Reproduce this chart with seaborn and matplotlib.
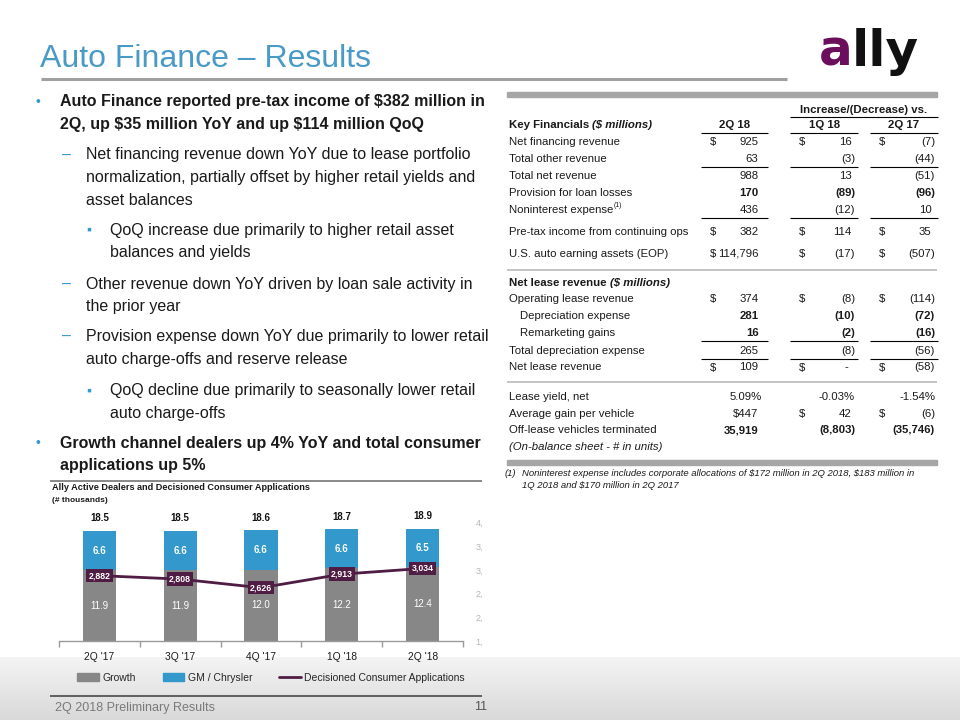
import numpy as np
import pandas as pd
import matplotlib
matplotlib.use("Agg")
import matplotlib.pyplot as plt
from matplotlib.patches import Patch, Rectangle
from matplotlib.lines import Line2D
from matplotlib.colors import LinearSegmentedColormap
import seaborn as sns

# chart data
quarters = ["2Q '17", "3Q '17", "4Q '17", "1Q '18", "2Q '18"]
growth = [11.9, 11.9, 12.0, 12.2, 12.4]
gm_chrysler = [6.6, 6.6, 6.6, 6.6, 6.5]
total_labels = ["18.5", "18.5", "18.6", "18.7", "18.9"]
applications = [2882, 2808, 2626, 2913, 3034]
app_ticks = [1500, 2000, 2500, 3000, 3500, 4000]
app_tick_labels = ["1,", "2,", "2,", "3,", "3,", "4,"]

# table data
kf_labels = ["Net financing revenue", "Total other revenue", "Total net revenue",
             "Provision for loan losses", "Noninterest expense",
             "Pre-tax income from continuing ops", "U.S. auto earning assets (EOP)"]
kf_2q18 = ["925", "63", "988", "170", "436", "382", "114,796"]
kf_vs_1q18 = ["16", "(3)", "13", "(89)", "(12)", "114", "(17)"]
kf_vs_2q17 = ["(7)", "(44)", "(51)", "(96)", "10", "35", "(507)"]
kf_dollar = [True, False, False, False, False, True, True]
kf_bold = [False, False, False, True, False, False, False]

lease_labels = ["Operating lease revenue", "Depreciation expense", "Remarketing gains",
                "Total depreciation expense", "Net lease revenue"]
lease_2q18 = ["374", "281", "16", "265", "109"]
lease_vs_1q18 = ["(8)", "(10)", "(2)", "(8)", "-"]
lease_vs_2q17 = ["(114)", "(72)", "(16)", "(56)", "(58)"]
lease_dollar = [True, False, False, False, True]
lease_bold = [False, True, True, False, False]
lease_indent = [False, True, True, False, False]

other_labels = ["Lease yield, net", "Average gain per vehicle", "Off-lease vehicles terminated"]
other_2q18 = ["5.09%", "$447", "35,919"]
other_vs_1q18 = ["-0.03%", "42", "(8,803)"]
other_vs_2q17 = ["-1.54%", "(6)", "(35,746)"]
other_dollar = [False, True, False]
other_bold = [False, False, True]

bullets = [
    (0, ["Auto Finance reported pre-tax income of $382 million in",
         "2Q, up $35 million YoY and up $114 million QoQ"]),
    (1, ["Net financing revenue down YoY due to lease portfolio",
         "normalization, partially offset by higher retail yields and",
         "asset balances"]),
    (2, ["QoQ increase due primarily to higher retail asset",
         "balances and yields"]),
    (1, ["Other revenue down YoY driven by loan sale activity in",
         "the prior year"]),
    (1, ["Provision expense down YoY due primarily to lower retail",
         "auto charge-offs and reserve release"]),
    (2, ["QoQ decline due primarily to seasonally lower retail",
         "auto charge-offs"]),
    (0, ["Growth channel dealers up 4% YoY and total consumer",
         "applications up 5%"]),
]

BLUE = "#3399cc"
GRAY = "#878787"
PURPLE = "#4f1c44"
TITLE_BLUE = "#4a9ac7"

sns.set_theme(style="white")
plt.rcParams["font.family"] = ["Liberation Sans", "DejaVu Sans"]

fig = plt.figure(figsize=(9.6, 7.2), dpi=100)
ov = fig.add_axes([0, 0, 1, 1], zorder=0)
ov.set_axis_off()

# bottom gradient
cmap = LinearSegmentedColormap.from_list("bg", ["#f4f4f4", "#d9d9d9"])
ov.imshow(np.linspace(0, 1, 64).reshape(-1, 1), cmap=cmap, aspect="auto",
          extent=(0, 960, 720, 657), zorder=0)
ov.set_xlim(0, 960)
ov.set_ylim(720, 0)

renderer = fig.canvas.get_renderer()


def put(x, y, s, **kw):
    kw.setdefault("va", "center")
    kw.setdefault("color", "#1a1a1a")
    kw.setdefault("parse_math", False)
    return ov.text(x, y, s, **kw)


def right_of(t):
    return t.get_window_extent(renderer).x1


def hline(y, x0, x1, color="black", lw=0.8):
    ov.plot([x0, x1], [y, y], color=color, lw=lw, solid_capstyle="butt", zorder=2)


# title and logo
put(40, 59, "Auto Finance \u2013 Results", fontsize=23, color=TITLE_BLUE)
hline(79, 41, 787, color="#a0a0a0", lw=2.2)
a = put(819, 66, "a", fontsize=36, fontweight="bold", color="#6b0f5c",
        va="baseline", family="DejaVu Sans")
put(right_of(a) - 1, 66, "lly", fontsize=36, fontweight="bold", color="#111111",
    va="baseline", family="DejaVu Sans")

# bullets
para_y = [101.7, 155, 230, 284.3, 336.7, 391, 443.3]
marker_x = [38, 67, 89]
text_x = [60, 86, 110]
markers = ["\u2022", "\u2013", "\u25aa"]
for (level, lines), y0 in zip(bullets, para_y):
    put(marker_x[level], y0, markers[level], fontsize=10 if level != 1 else 11.5,
        color=BLUE, ha="center")
    for k, line in enumerate(lines):
        put(text_x[level], y0 + k * 22.6, line, fontsize=11.5,
            fontweight="bold" if level == 0 else "normal")

# table
tfs = 8.2
label_x = 509
dollar_x = [710, 799, 879]
right_x = [762, 855, 935]
ov.add_patch(Rectangle((507, 92), 430, 5, color="#a6a6a6", zorder=2))
ov.add_patch(Rectangle((507, 460), 430, 5, color="#a6a6a6", zorder=2))

put(864, 110, "Increase/(Decrease) vs.", fontsize=tfs, fontweight="bold", ha="center")
hline(117, 790, 938)
t = put(label_x, 125, "Key Financials ", fontsize=tfs, fontweight="bold")
put(right_of(t), 125, "($ millions)", fontsize=tfs, fontweight="bold", style="italic")
for cx, h in zip([735, 825, 904], ["2Q 18", "1Q 18", "2Q 17"]):
    put(cx, 125, h, fontsize=tfs, fontweight="bold", ha="center")
col_spans = [(701, 768), (790, 858), (870, 938)]


def underline_row(y):
    for x0, x1 in col_spans:
        hline(y, x0, x1)


def value(col, y, s, bold):
    w = "bold" if bold else "normal"
    if s == "-":
        put(right_x[col] - 9, y, s, fontsize=tfs, fontweight=w, ha="center")
    elif s.endswith(")") or s.endswith("%"):
        put(right_x[col], y, s, fontsize=tfs, fontweight=w, ha="right")
    else:
        put(right_x[col] - 3.5, y, s, fontsize=tfs, fontweight=w, ha="right")


def table_rows(ys, labels, cols, dollars, bolds, indents=None, dollar_cols=(0, 1, 2)):
    for i, y in enumerate(ys):
        lx = label_x + (11 if indents and indents[i] else 0)
        t = put(lx, y, labels[i], fontsize=tfs)
        if labels[i] == "Noninterest expense":
            put(right_of(t) + 0.5, y - 4, "(1)", fontsize=5)
        for c in range(3):
            if dollars[i] and c in dollar_cols:
                put(dollar_x[c], y, "$", fontsize=tfs)
            value(c, y, cols[c][i], bolds[i])


kf_y = [141.7, 158.7, 175.7, 192.7, 209.7, 231.7, 254]
table_rows(kf_y, kf_labels, [kf_2q18, kf_vs_1q18, kf_vs_2q17], kf_dollar, kf_bold)
underline_row(132.7)
underline_row(167.3)
underline_row(218.3)
hline(270, 507, 937, color="#c4c4c4", lw=1.4)

t = put(label_x, 282.7, "Net lease revenue ", fontsize=tfs, fontweight="bold")
put(right_of(t), 282.7, "($ millions)", fontsize=tfs, fontweight="bold", style="italic")
lease_y = [299, 316.3, 333.3, 350.5, 367.5]
table_rows(lease_y, lease_labels, [lease_2q18, lease_vs_1q18, lease_vs_2q17],
           lease_dollar, lease_bold, lease_indent)
underline_row(341.3)
underline_row(358.8)
hline(381.7, 507, 937, color="#c4c4c4", lw=1.4)

other_y = [397.3, 414, 430.3]
table_rows(other_y, other_labels, [other_2q18, other_vs_1q18, other_vs_2q17],
           other_dollar, other_bold, dollar_cols=(1, 2))
put(label_x, 446.7, "(On-balance sheet - # in units)", fontsize=tfs, style="italic")

put(505, 474, "(1)", fontsize=6.8, style="italic")
put(521.7, 474, "Noninterest expense includes corporate allocations of $172 million in 2Q 2018, $183 million in",
    fontsize=6.8, style="italic")
put(521.7, 485, "1Q 2018 and $170 million in 2Q 2017", fontsize=6.8, style="italic")

# chart heading
hline(480.5, 50, 482, color="#7f7f7f", lw=1.3)
put(52, 488, "Ally Active Dealers and Decisioned Consumer Applications", fontsize=6.6, fontweight="bold")
put(52, 500.5, "(# thousands)", fontsize=6, fontweight="bold")

# footer
hline(696, 50, 482, color="#555555", lw=1.3)
put(55, 708, "2Q 2018 Preliminary Results", fontsize=9, color="#7a7a7a")
put(487, 707, "11", fontsize=9, color="#555555", ha="right")

# chart
df = pd.DataFrame({"quarter": quarters, "growth": growth, "gm": gm_chrysler,
                   "apps": applications})
df["total"] = df["growth"] + df["gm"]

ax = fig.add_axes([59 / 960, 79 / 720, 404 / 960, 136 / 720], zorder=1)
ax.patch.set_alpha(0)
sns.barplot(data=df, x="quarter", y="total", color=BLUE, width=0.41, saturation=1,
            linewidth=0, ax=ax)
sns.barplot(data=df, x="quarter", y="growth", color=GRAY, width=0.41, saturation=1,
            linewidth=0, ax=ax)
ax.set_xlim(-0.5, len(quarters) - 0.5)
ax.set_ylim(0, 22.87)
ax.set_xlabel("")
ax.set_ylabel("")
ax.set_yticks([])
for s in ["top", "left", "right"]:
    ax.spines[s].set_visible(False)
ax.spines["bottom"].set_color("#9a9a9a")
ax.spines["bottom"].set_linewidth(1)
ax.set_xticks(np.arange(-0.5, len(quarters), 1), minor=True)
ax.tick_params(axis="x", which="major", length=0, labelsize=7.4, colors="#1a1a1a", pad=8)
ax.tick_params(axis="x", which="minor", length=4, color="#9a9a9a", width=1,
               direction="out", bottom=True)

for i in range(len(quarters)):
    ax.text(i, growth[i] / 2, f"{growth[i]:.1f}", ha="center", va="center",
            color="white", fontsize=7)
    ax.text(i, growth[i] + gm_chrysler[i] / 2, f"{gm_chrysler[i]:.1f}", ha="center",
            va="center", color="white", fontsize=7, fontweight="bold")
    ax.text(i, growth[i] + gm_chrysler[i] + 2.1, total_labels[i], ha="center",
            va="center", color="#111111", fontsize=7, fontweight="bold")

ax2 = ax.twinx()
sns.lineplot(x=np.arange(len(quarters)), y=applications, color=PURPLE, lw=2, ax=ax2)
ax2.set_ylim(1500, 4375)
ax2.set_yticks(app_ticks)
ax2.set_yticklabels(app_tick_labels)
ax2.tick_params(axis="y", length=0, labelsize=6.5, colors="#b5b5b5", pad=9)
for s in ax2.spines.values():
    s.set_visible(False)
for i, v in enumerate(applications):
    ax2.text(i, v, f"{v:,}", ha="center", va="center", color="white", fontsize=6.3,
             fontweight="bold",
             bbox=dict(boxstyle="square,pad=0.25", fc=PURPLE, ec="none"))

handles = [Patch(color=GRAY), Patch(color=BLUE), Line2D([0], [0], color=PURPLE, lw=2)]
fig.legend(handles, ["Growth", "GM / Chrysler", "Decisioned Consumer Applications"],
           loc="center", bbox_to_anchor=(271 / 960, 1 - 677.7 / 720), ncol=3,
           frameon=False, fontsize=7.5, handlelength=2.1, handleheight=0.9,
           handletextpad=0.3, columnspacing=2.6)

fig.savefig("out.png", dpi=100)
